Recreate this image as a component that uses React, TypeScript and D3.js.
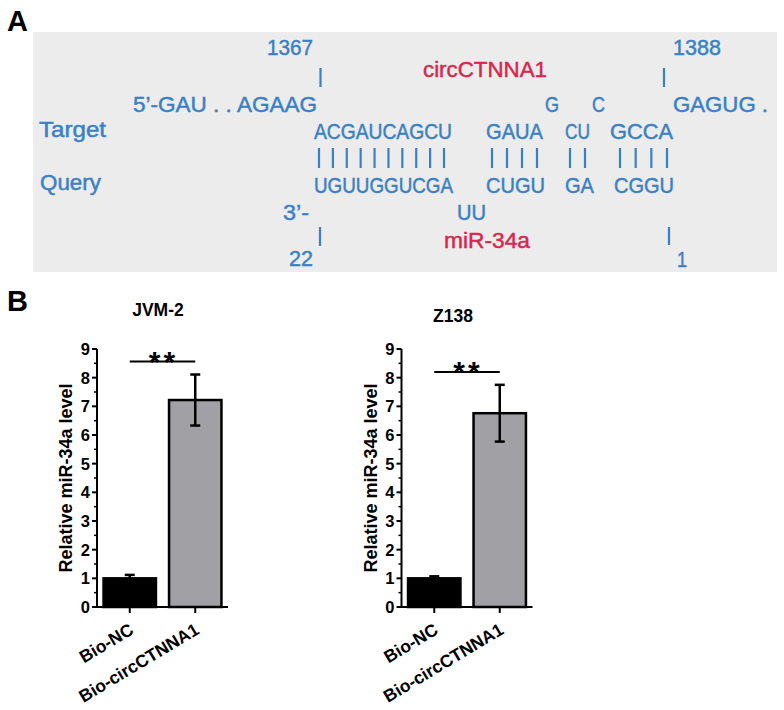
import React from "react";
import * as d3 from "d3";

// ---------- DATA ----------
const categories = ["Bio-NC", "Bio-circCTNNA1"];
const jvmMeans = [1.0, 7.22];
const jvmErrors = [0.12, 0.89];
const z138Means = [1.0, 6.76];
const z138Errors = [0.07, 0.99];
const yTicks = [0, 1, 2, 3, 4, 5, 6, 7, 8, 9];
const yMinorTicks = [0.5, 1.5, 2.5, 3.5, 4.5, 5.5, 6.5, 7.5, 8.5];
const jvmSigLevel = 8.56;
const z138SigLevel = 8.2;
const barColors = ["#000000", "#a1a1a5"];

// alignment panel text
const targetTop = ["5’-GAU . . AGAAG", "G", "C", "GAGUG ."];
const targetPaired = ["ACGAUCAGCU", "GAUA", "CU", "GCCA"];
const queryPaired = ["UGUUGGUCGA", "CUGU", "GA", "CGGU"];
const queryBottom = ["3’-", "UU"];
const pairCounts = [10, 4, 2, 4];

const BLUE = "#3a80c4";
const RED = "#d8264c";
const NARROW = "'Liberation Sans Narrow', 'Liberation Sans', Arial, sans-serif";
const SANS = "'Liberation Sans', Arial, sans-serif";

type T = { s: string; x: number; y: number; w: number; c?: string; fs?: number };

function AlignPanel() {
  const texts: T[] = [
    { s: "1367", x: 267, y: 55, w: 46 },
    { s: "1388", x: 673, y: 55, w: 48 },
    { s: "circCTNNA1", x: 423, y: 77, w: 124, c: RED },
    { s: targetTop[0], x: 133, y: 112, w: 184 },
    { s: targetTop[1], x: 545, y: 112, w: 14 },
    { s: targetTop[2], x: 592, y: 112, w: 13 },
    { s: targetTop[3], x: 673, y: 112, w: 95 },
    { s: "Target", x: 39, y: 137, w: 67 },
    { s: targetPaired[0], x: 314, y: 139, w: 138 },
    { s: targetPaired[1], x: 486, y: 139, w: 57 },
    { s: targetPaired[2], x: 565, y: 139, w: 25 },
    { s: targetPaired[3], x: 610, y: 139, w: 63 },
    { s: "Query", x: 40, y: 190, w: 61 },
    { s: queryPaired[0], x: 314, y: 193, w: 139 },
    { s: queryPaired[1], x: 486, y: 193, w: 59 },
    { s: queryPaired[2], x: 565, y: 193, w: 29 },
    { s: queryPaired[3], x: 614, y: 193, w: 60 },
    { s: queryBottom[0], x: 283, y: 220, w: 26 },
    { s: queryBottom[1], x: 457, y: 220, w: 29 },
    { s: "miR-34a", x: 444, y: 248, w: 86, c: RED },
    { s: "22", x: 289, y: 266, w: 24 },
    { s: "1", x: 677, y: 267, w: 10 },
  ];
  const groups = [
    { a: 319, b: 444 },
    { a: 492, b: 537 },
    { a: 570, b: 585 },
    { a: 620, b: 667 },
  ];
  const pairLines: { x: number }[] = [];
  groups.forEach((g, i) => {
    const n = pairCounts[i];
    d3.range(n).forEach((k) => {
      pairLines.push({ x: n === 1 ? g.a : g.a + ((g.b - g.a) * k) / (n - 1) });
    });
  });
  const markers = [
    { x: 320.5, y1: 68, y2: 87 },
    { x: 664, y1: 68, y2: 87 },
    { x: 320, y1: 227, y2: 246 },
    { x: 669, y1: 227, y2: 245 },
  ];
  return (
    <g>
      <rect x={33} y={32} width={744} height={240} fill="#ececec" />
      {texts.map((t, i) => (
        <text
          key={i}
          x={t.x}
          y={t.y}
          fill={t.c || BLUE}
          stroke={t.c || BLUE}
          strokeWidth={0.45}
          fontFamily={NARROW}
          fontSize={t.fs || 21.5}
          textLength={t.w}
          lengthAdjust="spacingAndGlyphs"
        >
          {t.s}
        </text>
      ))}
      {pairLines.map((p, i) => (
        <line key={i} x1={p.x} x2={p.x} y1={148} y2={168} stroke={BLUE} strokeWidth={2.2} />
      ))}
      {markers.map((m, i) => (
        <line key={i} x1={m.x} x2={m.x} y1={m.y1} y2={m.y2} stroke={BLUE} strokeWidth={2.2} />
      ))}
    </g>
  );
}

function BarChart({
  title,
  titleX,
  titleY,
  axisX,
  means,
  errors,
  sig,
}: {
  title: string;
  titleX: number;
  titleY: number;
  axisX: number;
  means: number[];
  errors: number[];
  sig: number;
}) {
  const y = d3.scaleLinear().domain([0, 9]).range([607, 349]);
  const x = d3
    .scaleBand<string>()
    .domain(categories)
    .range([axisX, axisX + 131])
    .paddingInner(0.2)
    .paddingOuter(0.1);
  const bw = x.bandwidth();
  const cx = (c: string) => (x(c) as number) + bw / 2;
  const cap = 5;
  return (
    <g fontFamily={SANS} fontWeight="bold">
      <text x={titleX} y={titleY} textAnchor="middle" fontSize={17.5}>
        {title}
      </text>
      {/* bars */}
      {categories.map((c, i) => (
        <rect
          key={c}
          x={x(c)}
          y={y(means[i])}
          width={bw}
          height={y(0) - y(means[i])}
          fill={barColors[i]}
          stroke="#000"
          strokeWidth={2.5}
        />
      ))}
      {/* error bars */}
      {categories.map((c, i) => {
        const top = y(means[i] + errors[i]);
        const bot = i === 0 ? y(means[i]) : y(means[i] - errors[i]);
        return (
          <g key={c} stroke="#000" strokeWidth={2.5}>
            <line x1={cx(c)} x2={cx(c)} y1={top} y2={bot} />
            <line x1={cx(c) - cap} x2={cx(c) + cap} y1={top} y2={top} />
            {i > 0 && <line x1={cx(c) - cap} x2={cx(c) + cap} y1={bot} y2={bot} />}
          </g>
        );
      })}
      {/* y axis */}
      <line x1={axisX} x2={axisX} y1={y(9)} y2={y(0)} stroke="#000" strokeWidth={2} />
      {yTicks.map((t) => (
        <g key={t}>
          <line x1={axisX - 5} x2={axisX} y1={y(t)} y2={y(t)} stroke="#000" strokeWidth={2} />
          <text x={axisX - 7} y={y(t) + 6} textAnchor="end" fontSize={16.5}>
            {t}
          </text>
        </g>
      ))}
      {yMinorTicks.map((t) => (
        <line key={t} x1={axisX - 3} x2={axisX} y1={y(t)} y2={y(t)} stroke="#000" strokeWidth={1.5} />
      ))}
      <text
        transform={`translate(${axisX - 25},${(y(0) + y(9)) / 2}) rotate(-90)`}
        textAnchor="middle"
        fontSize={18}
      >
        Relative miR-34a level
      </text>
      {/* x axis */}
      <line x1={axisX - 1} x2={axisX + 131} y1={y(0)} y2={y(0)} stroke="#000" strokeWidth={2} />
      {categories.map((c) => (
        <g key={c}>
          <line x1={cx(c)} x2={cx(c)} y1={y(0)} y2={y(0) + 6} stroke="#000" strokeWidth={2} />
          <text
            transform={`translate(${cx(c) + 5},${y(0) + 26}) rotate(-31)`}
            textAnchor="end"
            fontSize={17.5}
          >
            {c}
          </text>
        </g>
      ))}
      {/* significance */}
      <line
        x1={cx(categories[0])}
        x2={cx(categories[1])}
        y1={y(sig)}
        y2={y(sig)}
        stroke="#000"
        strokeWidth={2}
      />
      <text
        x={(cx(categories[0]) + cx(categories[1])) / 2 + 1}
        y={y(sig) + 10}
        textAnchor="middle"
        fontSize={30}
        letterSpacing={3}
      >
        **
      </text>
    </g>
  );
}

export default function App() {
  return (
    <svg
      width={784}
      height={710}
      style={{ position: "absolute", left: 0, top: 0, background: "#fff" }}
    >
      <rect width={784} height={710} fill="#fff" />
      <text x={7} y={31} fontFamily={SANS} fontWeight="bold" fontSize={29}>
        A
      </text>
      <AlignPanel />
      <text x={7} y={311} fontFamily={SANS} fontWeight="bold" fontSize={29}>
        B
      </text>
      <BarChart
        title="JVM-2"
        titleX={158}
        titleY={316}
        axisX={97}
        means={jvmMeans}
        errors={jvmErrors}
        sig={jvmSigLevel}
      />
      <BarChart
        title="Z138"
        titleX={453}
        titleY={322}
        axisX={401.5}
        means={z138Means}
        errors={z138Errors}
        sig={z138SigLevel}
      />
    </svg>
  );
}
